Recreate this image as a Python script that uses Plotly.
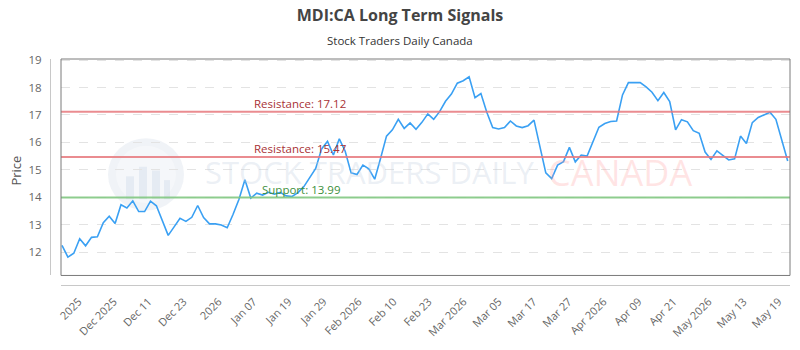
import plotly.graph_objects as go

# ---------------- data ----------------
prices = [
    12.25, 11.82, 11.96, 12.49, 12.23, 12.54, 12.56, 13.07, 13.31, 13.04,
    13.73, 13.61, 13.87, 13.48, 13.48, 13.86, 13.69, 13.15, 12.61, 12.92,
    13.23, 13.12, 13.27, 13.70, 13.26, 13.03, 13.03, 12.99, 12.89, 13.38,
    13.93,
    14.64, 13.97, 14.15, 14.08, 14.18, 14.11, 14.18, 14.05, 14.03, 14.17,
    14.39, 14.73, 15.05, 15.76, 16.04, 15.54, 16.13, 15.68, 14.89, 14.83,
    15.17, 15.04, 14.66, 15.42, 16.23, 16.46, 16.84, 16.51, 16.71, 16.48,
    16.73,
    17.04, 16.84, 17.12, 17.50, 17.76, 18.16, 18.25, 18.39, 17.63, 17.78,
    17.10, 16.54, 16.49, 16.54, 16.78, 16.60, 16.54, 16.61, 16.81, 15.82,
    14.89, 14.68, 15.17, 15.30, 15.82, 15.29, 15.54, 15.50, 16.05, 16.55,
    16.69, 16.76, 16.78, 17.73, 18.18, 18.17, 18.18, 18.02, 17.83, 17.52,
    17.82, 17.49, 16.46, 16.83, 16.75, 16.43, 16.33, 15.65, 15.38, 15.69,
    15.53, 15.36, 15.40, 16.23, 15.96, 16.72, 16.91, 17.02, 17.10, 16.84,
    16.05, 15.32,
]
tick_labels = ["2025", "Dec 2025", "Dec 11", "Dec 23", "2026", "Jan 07", "Jan 19",
               "Jan 29", "Feb 2026", "Feb 10", "Feb 23", "Mar 2026", "Mar 05",
               "Mar 17", "Mar 27", "Apr 2026", "Apr 09", "Apr 21", "May 2026",
               "May 13", "May 19"]
resistance_levels = [17.12, 15.47]
support_levels = [13.99]

# ---------------- layout constants ----------------
W, H = 800, 350
L, R, T, B = 50, 10, 59, 54
PW, PH = W - L - R, H - T - B
plot_left_px, plot_bottom_px = 61, 286
xdom0 = (plot_left_px - L) / PW
ydom0 = (H - B - plot_bottom_px) / PH

def px_x(px):
    return (px - L) / PW

def px_y(py):
    return (H - B - py) / PH

x_idx = list(range(len(prices)))
TICK0, TICKSTEP = 2.83, 5.932
tick_pos = [TICK0 + k * TICKSTEP for k in range(len(tick_labels))]

FONT = "Open Sans, Liberation Sans, sans-serif"

fig = go.Figure()
fig.add_trace(go.Scatter(x=x_idx, y=prices, mode="lines",
                         line=dict(color="#3aa0f3", width=1.6),
                         hoverinfo="skip", showlegend=False))

shapes = []
annotations = []

# watermark logo
shapes.append(dict(type="circle", xref="paper", yref="paper", layer="below",
                   x0=px_x(108), x1=px_x(184), y0=px_y(218), y1=px_y(142),
                   fillcolor="rgba(200,212,228,0.28)", line=dict(width=0)))
shapes.append(dict(type="circle", xref="paper", yref="paper", layer="below",
                   x0=px_x(116), x1=px_x(176), y0=px_y(210), y1=px_y(150),
                   fillcolor="rgba(255,255,255,0.35)", line=dict(width=0)))
for bx0, bx1, by0 in [(126, 134, 182), (139, 147, 172), (152, 160, 176), (164, 170, 186)]:
    shapes.append(dict(type="rect", xref="paper", yref="paper", layer="below",
                       x0=px_x(bx0), x1=px_x(bx1), y0=px_y(206), y1=px_y(by0),
                       fillcolor="rgba(200,212,228,0.35)", line=dict(width=0)))
annotations.append(dict(xref="paper", yref="paper", x=px_x(203), y=px_y(178),
                        xanchor="left", yanchor="middle", showarrow=False,
                        text="STOCK TRADERS DAILY",
                        font=dict(family=FONT, size=31, color="rgba(195,208,226,0.33)")))
annotations.append(dict(xref="paper", yref="paper", x=px_x(546), y=px_y(178),
                        xanchor="left", yanchor="middle", showarrow=False,
                        text="CANADA",
                        font=dict(family=FONT, size=36, color="rgba(255,150,150,0.25)")))

# level lines
for lv in resistance_levels:
    shapes.append(dict(type="line", xref="x domain", yref="y", x0=0, x1=1, y0=lv, y1=lv,
                       line=dict(color="rgba(230,120,125,0.85)", width=2)))
    annotations.append(dict(xref="paper", yref="y", x=px_x(252), y=lv, yshift=8,
                            xanchor="left", yanchor="middle", showarrow=False,
                            text=f"Resistance: {lv:.2f}",
                            font=dict(family=FONT, size=11.5, color="#a83236")))
for lv in support_levels:
    shapes.append(dict(type="line", xref="x domain", yref="y", x0=0, x1=1, y0=lv, y1=lv,
                       line=dict(color="rgba(130,200,130,0.9)", width=2)))
    annotations.append(dict(xref="paper", yref="y", x=px_x(260), y=lv, yshift=8,
                            xanchor="left", yanchor="middle", showarrow=False,
                            text=f"Support: {lv:.2f}",
                            font=dict(family=FONT, size=11.5, color="#3c8f3c")))

# frame
shapes.append(dict(type="rect", xref="x domain", yref="y domain", x0=0, x1=1, y0=0, y1=1,
                   line=dict(color="#7a7a7a", width=1)))

# subtitle
annotations.append(dict(xref="paper", yref="paper", x=px_x(400), y=px_y(40),
                        xanchor="center", yanchor="middle", showarrow=False,
                        text="Stock Traders Daily Canada",
                        font=dict(family=FONT, size=11.5, color="#333")))

fig.update_layout(
    width=W, height=H,
    margin=dict(l=L, r=R, t=T, b=B),
    paper_bgcolor="white", plot_bgcolor="white",
    title=dict(text="<b>MDI:CA Long Term Signals</b>", xref="container", x=0.5,
               xanchor="center", yref="container", y=1 - 15 / H, yanchor="middle",
               font=dict(family=FONT, size=16, color="#444")),
    shapes=shapes, annotations=annotations,
    xaxis=dict(domain=[xdom0, 1], anchor="free", position=0,
               range=[-0.17, 123.39], tickmode="array", tickvals=tick_pos,
               ticktext=tick_labels, tickangle=-45, showgrid=False, zeroline=False,
               showline=True, linecolor="#c8c8c8", linewidth=1, ticks="",
               ticklabelstandoff=5,
               tickfont=dict(family=FONT, size=11, color="#666")),
    yaxis=dict(domain=[ydom0, 1], anchor="free", position=0,
               range=[11.15, 19.04], tick0=12, dtick=1, showgrid=True,
               gridcolor="#e3e3e3", griddash="dash", gridwidth=1, zeroline=False,
               showline=True, linecolor="#c8c8c8", linewidth=1, ticks="",
               ticklabelstandoff=6,
               tickfont=dict(family=FONT, size=11.5, color="#666")),
)
# y-axis title placed as rotated annotation
fig.add_annotation(xref="paper", yref="paper", x=px_x(16), y=px_y(176),
                   xanchor="center", yanchor="middle", showarrow=False, textangle=-90,
                   text="Price", font=dict(family=FONT, size=13, color="#555"))

fig.write_html("out.html")
